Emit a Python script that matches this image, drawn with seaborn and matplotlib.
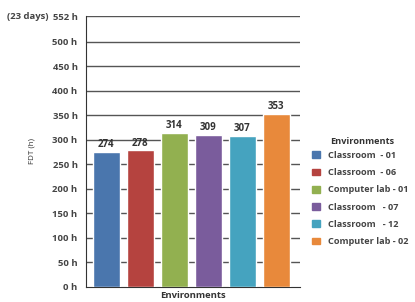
from matplotlib import pyplot as plt
import seaborn as sns
import pandas as pd

environments = ["Classroom  - 01", "Classroom  - 06", "Computer lab - 01",
                "Classroom   - 07", "Classroom   - 12", "Computer lab - 02"]
fdt_hours = [274, 278, 314, 309, 307, 353]
colors = ["#4a76ad", "#b5433f", "#92b050", "#7a5c9c", "#45a3bf", "#e8893b"]
yticks = [0, 50, 100, 150, 200, 250, 300, 350, 400, 450, 500, 552]
ytick_labels = [f"{v} h" for v in yticks]


def main():
    df = pd.DataFrame({"env": environments, "fdt": fdt_hours})

    sns.set_style("white")
    plt.rcParams["font.family"] = ["Open Sans", "DejaVu Sans"]
    fig = plt.figure(figsize=(4.15, 3.02), dpi=100)
    ax = fig.add_axes([0.207, 0.050, 0.516, 0.897])

    sns.barplot(data=df, x="env", y="fdt", hue="env", palette=colors,
                saturation=1, width=0.8, legend=False, ax=ax, zorder=3)

    for i, v in enumerate(fdt_hours):
        ax.text(i, v + 4, str(v), ha="center", va="bottom", fontsize=7,
                fontweight="bold", color="#333333", zorder=4)

    ax.set_ylim(0, 552)
    ax.set_xlim(-0.6, 5.7)
    ax.set_yticks(yticks)
    ax.set_yticklabels(ytick_labels, fontsize=6.8, fontweight="bold",
                       color="#444444")
    ax.set_xticks([])
    ax.tick_params(axis="y", length=4, color="#555555", width=1, pad=2)
    for v in yticks[1:]:
        ax.axhline(v, color="#555555", lw=1, zorder=1)
    for s in ["top", "right"]:
        ax.spines[s].set_visible(False)
    ax.spines["left"].set_color("#333333")
    ax.spines["bottom"].set_color("#333333")

    ax.set_xlabel("Environments", fontsize=6.8, fontweight="bold",
                  color="#333333", labelpad=3)
    ax.set_ylabel("FDT (h)", fontsize=5.8, color="#333333", labelpad=12)
    fig.text(0.018, 0.947, "(23 days)", fontsize=6.8, fontweight="bold",
             color="#444444", va="center")

    handles = [plt.Rectangle((0, 0), 1, 1, color=c) for c in colors]
    leg = fig.legend(handles, environments,
                     loc="upper left", bbox_to_anchor=(0.752, 0.5),
                     frameon=False, fontsize=6.6, borderpad=0,
                     borderaxespad=0, handlelength=0.85, handleheight=0.75,
                     labelspacing=0.9, handletextpad=0.9)
    for t in leg.get_texts():
        t.set_fontweight("bold")
        t.set_color("#444444")
    fig.text(0.795, 0.533, "Environments", fontsize=6.6, fontweight="bold",
             color="#333333", va="center")

    fig.savefig("out.png", dpi=100)


if __name__ == "__main__":
    main()
